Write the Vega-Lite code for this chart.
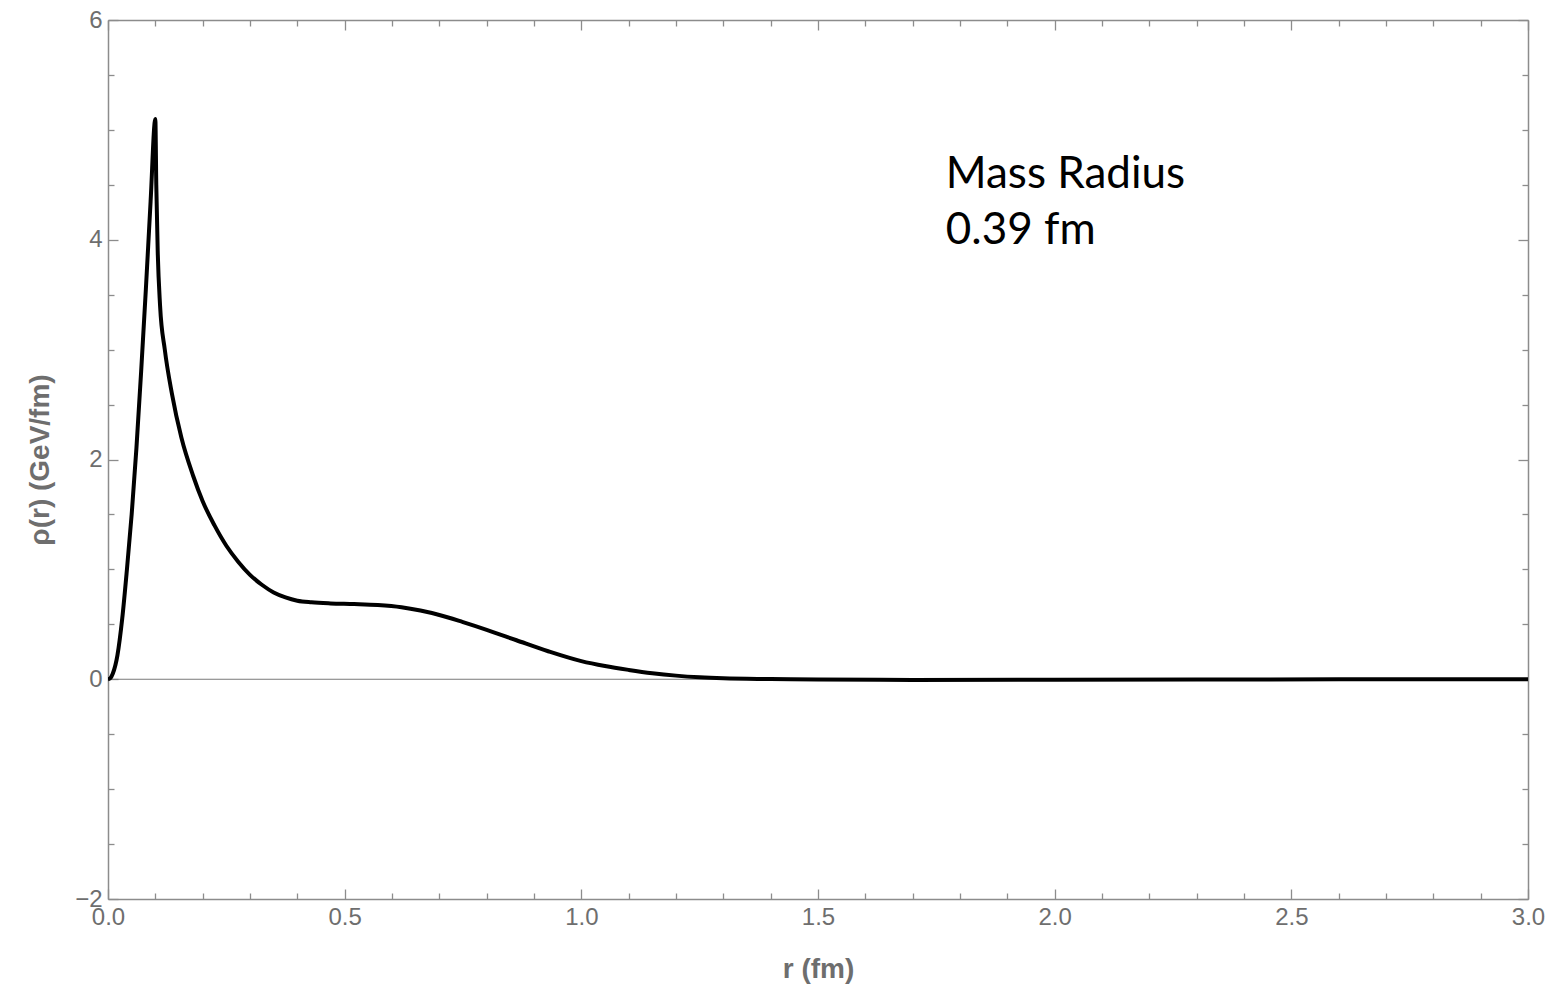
{
  "$schema": "https://vega.github.io/schema/vega-lite/v6.json",
  "autosize": {"type": "none"},
  "padding": {"left": 108, "top": 20, "right": 24, "bottom": 95},
  "width": 1420,
  "height": 879,
  "background": "white",
  "config": {
    "view": {"stroke": null},
    "axis": {
      "domainColor": "#8c8c8c",
      "domainWidth": 1.5,
      "tickColor": "#8c8c8c",
      "tickWidth": 1.3,
      "grid": false,
      "labelFont": "Liberation Sans",
      "labelFontSize": 24,
      "labelColor": "#6e6e6e",
      "titleFont": "Liberation Sans",
      "titleFontSize": 28,
      "titleFontWeight": "bold",
      "titleColor": "#6e6e6e",
      "labelFlush": false,
      "labelOverlap": false
    }
  },
  "resolve": {"axis": {"x": "independent", "y": "independent"}},
  "layer": [
    {
      "data": {"values": [{"r0": 0, "r1": 3, "v": 0}]},
      "mark": {"type": "rule", "color": "#7a7a7a", "strokeWidth": 1},
      "encoding": {
        "x": {"field": "r0", "type": "quantitative", "scale": {"domain": [0, 3], "nice": false}, "axis": null},
        "x2": {"field": "r1"},
        "y": {"field": "v", "type": "quantitative", "scale": {"domain": [-2, 6], "nice": false}, "axis": null}
      }
    },
    {
      "data": {"values": [
        {"r": 0, "v": 0}, {"r": 0.005, "v": 0.01}, {"r": 0.01, "v": 0.05}, {"r": 0.02, "v": 0.22},
        {"r": 0.03, "v": 0.55}, {"r": 0.04, "v": 1.0}, {"r": 0.05, "v": 1.5}, {"r": 0.06, "v": 2.1},
        {"r": 0.07, "v": 2.8}, {"r": 0.08, "v": 3.55}, {"r": 0.09, "v": 4.35}, {"r": 0.1, "v": 5.1},
        {"r": 0.102, "v": 4.5}, {"r": 0.105, "v": 3.9}, {"r": 0.11, "v": 3.4}, {"r": 0.12, "v": 3.0},
        {"r": 0.135, "v": 2.6}, {"r": 0.155, "v": 2.2}, {"r": 0.18, "v": 1.85}, {"r": 0.2, "v": 1.62},
        {"r": 0.225, "v": 1.4}, {"r": 0.25, "v": 1.215}, {"r": 0.275, "v": 1.07}, {"r": 0.3, "v": 0.95},
        {"r": 0.325, "v": 0.86}, {"r": 0.35, "v": 0.79}, {"r": 0.375, "v": 0.745}, {"r": 0.4, "v": 0.715},
        {"r": 0.43, "v": 0.7}, {"r": 0.47, "v": 0.69}, {"r": 0.52, "v": 0.684}, {"r": 0.57, "v": 0.675},
        {"r": 0.62, "v": 0.655}, {"r": 0.66, "v": 0.625}, {"r": 0.7, "v": 0.585}, {"r": 0.75, "v": 0.52},
        {"r": 0.8, "v": 0.45}, {"r": 0.863, "v": 0.355}, {"r": 0.93, "v": 0.255}, {"r": 1.0, "v": 0.165},
        {"r": 1.05, "v": 0.12}, {"r": 1.1, "v": 0.085}, {"r": 1.15, "v": 0.055}, {"r": 1.2, "v": 0.033},
        {"r": 1.25, "v": 0.018}, {"r": 1.3, "v": 0.009}, {"r": 1.4, "v": 0.002}, {"r": 1.5, "v": -0.003},
        {"r": 1.7, "v": -0.006}, {"r": 2.0, "v": -0.005}, {"r": 2.3, "v": -0.003}, {"r": 2.6, "v": -0.001},
        {"r": 3.0, "v": 0}
      ]},
      "mark": {"type": "line", "color": "black", "strokeWidth": 4, "interpolate": "monotone", "clip": true},
      "encoding": {
        "x": {
          "field": "r", "type": "quantitative",
          "scale": {"domain": [0, 3], "nice": false},
          "title": "r (fm)",
          "axis": {
            "orient": "bottom",
            "values": [0,0.1,0.2,0.3,0.4,0.5,0.6,0.7,0.8,0.9,1,1.1,1.2,1.3,1.4,1.5,1.6,1.7,1.8,1.9,2,2.1,2.2,2.3,2.4,2.5,2.6,2.7,2.8,2.9,3],
            "labelExpr": "round(datum.value*10) % 5 == 0 ? format(datum.value, '.1f') : ''",
            "tickSize": {"condition": {"test": "round(datum.value*10) % 5 == 0", "value": -10}, "value": -6},
            "labelPadding": 16,
            "titlePadding": 22
          }
        },
        "y": {
          "field": "v", "type": "quantitative",
          "scale": {"domain": [-2, 6], "nice": false},
          "title": "ρ(r) (GeV/fm)",
          "axis": {
            "orient": "left",
            "values": [-2,-1.5,-1,-0.5,0,0.5,1,1.5,2,2.5,3,3.5,4,4.5,5,5.5,6],
            "labelExpr": "round(datum.value*2) % 4 == 0 ? replace(format(datum.value, 'd'), '-', '−') : ''",
            "tickSize": {"condition": {"test": "round(datum.value*2) % 4 == 0", "value": -10}, "value": -6},
            "labelPadding": 16,
            "titlePadding": 20
          }
        }
      }
    },
    {
      "data": {"values": [{"r": 1.77, "v": 4.47, "label": ["Mass Radius", "0.39 fm"]}]},
      "mark": {"type": "text", "align": "left", "baseline": "alphabetic", "font": "Lato", "fontSize": 44, "lineHeight": 56, "color": "black"},
      "encoding": {
        "text": {"field": "label"},
        "x": {
          "field": "r", "type": "quantitative",
          "scale": {"domain": [0, 3], "nice": false},
          "axis": {
            "orient": "top",
            "values": [0,0.1,0.2,0.3,0.4,0.5,0.6,0.7,0.8,0.9,1,1.1,1.2,1.3,1.4,1.5,1.6,1.7,1.8,1.9,2,2.1,2.2,2.3,2.4,2.5,2.6,2.7,2.8,2.9,3],
            "labels": false,
            "title": null,
            "tickSize": {"condition": {"test": "round(datum.value*10) % 5 == 0", "value": -10}, "value": -6}
          }
        },
        "y": {
          "field": "v", "type": "quantitative",
          "scale": {"domain": [-2, 6], "nice": false},
          "axis": {
            "orient": "right",
            "values": [-2,-1.5,-1,-0.5,0,0.5,1,1.5,2,2.5,3,3.5,4,4.5,5,5.5,6],
            "labels": false,
            "title": null,
            "tickSize": {"condition": {"test": "round(datum.value*2) % 4 == 0", "value": -10}, "value": -6}
          }
        }
      }
    }
  ]
}
